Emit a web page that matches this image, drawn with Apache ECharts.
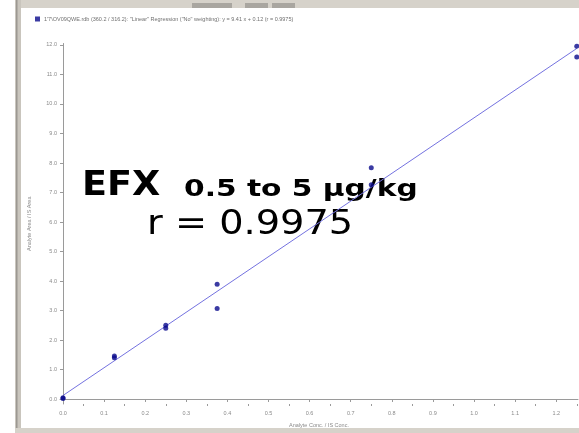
<!DOCTYPE html>
<html>
<head>
<meta charset="utf-8">
<script src="https://cdn.jsdelivr.net/npm/echarts@6/dist/echarts.min.js"></script>
<style>
  html, body { margin: 0; padding: 0; background: #fff; }
  #chart { width: 579px; height: 433px; }
</style>
</head>
<body>
<div id="chart"></div>
<script>
// Calibration points: analyte conc. ratio vs. area ratio (duplicate injections)
const concRatio = [0, 0, 0.125, 0.125, 0.25, 0.25, 0.375, 0.375, 0.75, 0.75, 1.25, 1.25];
const areaRatio = [0.02, 0.04, 1.40, 1.46, 2.40, 2.50, 3.07, 3.89, 7.26, 7.84, 11.59, 11.96];

// Linear regression reported by the software
const slope = 9.41;
const intercept = 0.12;
const fitRange = [0, 1.25];

// Axis tick labels
const xTicks = [0, 0.1, 0.2, 0.3, 0.4, 0.5, 0.6, 0.7, 0.8, 0.9, 1.0, 1.1, 1.2];
const xMinorTicks = [0.05, 0.15, 0.25, 0.35, 0.45, 0.55, 0.65, 0.75, 0.85, 0.95, 1.05, 1.15, 1.25];
const yTicks = [0, 1, 2, 3, 4, 5, 6, 7, 8, 9, 10, 11, 12];

const seriesName = '1\'7\\OV09QWE.rdb (360.2 / 316.2): "Linear" Regression ("No" weighting): y = 9.41 x + 0.12 (r = 0.9975)';

const points = concRatio.map((x, i) => [x, areaRatio[i]]);
const fitLine = fitRange.map(x => [x, slope * x + intercept]);

const axisGray = '#9a9a9a';
const labelGray = '#8a8a8a';
const frameGray = '#d6d2ca';

// stretched annotation text, scaled horizontally from its left edge
function label(text, x, y, font, sx) {
  return { type: 'text', x: x, y: y, originX: 0, originY: 0, scaleX: sx, silent: true,
           style: { text: text, font: font, fill: '#000' } };
}

const chart = echarts.init(document.getElementById('chart'), null, { renderer: 'canvas' });

chart.setOption({
  backgroundColor: '#ffffff',
  animation: false,
  grid: { left: 60, top: 43.5, width: 518, height: 361.5, containLabel: false },
  legend: {
    left: 30, top: 11,
    icon: 'rect', itemWidth: 5, itemHeight: 5, itemGap: 4,
    data: [{ name: seriesName }],
    textStyle: { fontSize: 5.5, color: '#707070', fontFamily: 'Liberation Sans', padding: [0, 0, 0, -1] }
  },
  xAxis: [{
    type: 'value', min: -0.0073, max: 1.2530,
    name: 'Analyte Conc. / IS Conc.', nameLocation: 'middle', nameGap: 18,
    nameTextStyle: { fontSize: 5.5, color: labelGray, fontFamily: 'Liberation Sans' },
    splitLine: { show: false },
    axisLine: { lineStyle: { color: axisGray, width: 1 } },
    axisTick: { customValues: xTicks, length: 3, lineStyle: { color: axisGray } },
    axisLabel: { customValues: xTicks, fontSize: 5.5, color: labelGray, margin: 6,
      fontFamily: 'Liberation Sans', formatter: v => v.toFixed(1) }
  }, {
    type: 'value', min: -0.0073, max: 1.2530, position: 'bottom',
    splitLine: { show: false },
    axisLine: { show: false },
    axisTick: { customValues: xMinorTicks, length: 2, lineStyle: { color: axisGray } },
    axisLabel: { show: false }
  }],
  yAxis: {
    type: 'value', min: -0.169, max: 12.05,
    name: 'Analyte Area / IS Area', nameLocation: 'middle', nameGap: 28,
    nameTextStyle: { fontSize: 5.5, color: labelGray, fontFamily: 'Liberation Sans' },
    splitLine: { show: false },
    axisLine: { show: true, lineStyle: { color: axisGray, width: 1 } },
    axisTick: { show: true, customValues: yTicks, length: 3, lineStyle: { color: axisGray } },
    axisLabel: { customValues: yTicks, fontSize: 5.5, color: labelGray, margin: 3,
      fontFamily: 'Liberation Sans', formatter: v => v.toFixed(1) }
  },
  series: [{
    name: 'fit', type: 'line', data: fitLine, showSymbol: false, silent: true,
    lineStyle: { color: '#7472e0', width: 1 }, z: 2
  }, {
    name: seriesName, type: 'scatter', data: points, symbolSize: 5,
    itemStyle: { color: '#0a0a8c' }, z: 3
  }],
  graphic: [
    // window frame around the plot
    { type: 'rect', shape: { x: 15, y: 0, width: 564, height: 8 }, style: { fill: frameGray }, silent: true },
    { type: 'rect', shape: { x: 192, y: 3, width: 40, height: 5 }, style: { fill: '#a9a6a0' }, silent: true },
    { type: 'rect', shape: { x: 245, y: 3, width: 23, height: 5 }, style: { fill: '#a9a6a0' }, silent: true },
    { type: 'rect', shape: { x: 272, y: 3, width: 23, height: 5 }, style: { fill: '#a9a6a0' }, silent: true },
    { type: 'rect', shape: { x: 15, y: 0, width: 6, height: 433 }, style: { fill: '#c9c5bd' }, silent: true },
    { type: 'rect', shape: { x: 16, y: 0, width: 1.5, height: 433 }, style: { fill: '#9c9892' }, silent: true },
    { type: 'rect', shape: { x: 15, y: 428, width: 564, height: 5 }, style: { fill: frameGray }, silent: true },
    // annotation
    label('EFX', 82, 170, 'bold 33px "DejaVu Sans"', 1.11),
    label('0.5 to 5 µg/kg', 184, 179, 'bold 23px "DejaVu Sans"', 1.29),
    label('r = 0.9975', 147, 209, '33px "DejaVu Sans"', 1.16)
  ]
});
</script>
</body>
</html>
